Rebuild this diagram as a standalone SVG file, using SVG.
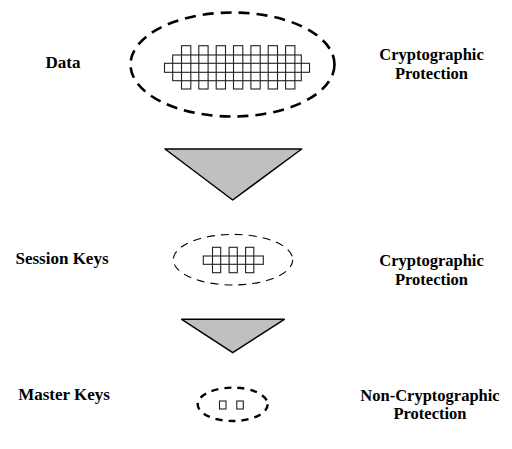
<svg xmlns="http://www.w3.org/2000/svg" width="512" height="449" viewBox="0 0 512 449">
<style>
text{font-family:"Liberation Serif","Times New Roman",serif;font-weight:bold;font-size:17px;fill:#000}
.lbl{text-anchor:middle}
.two{font-size:16.5px}
.cell{fill:#fff;stroke:#222;stroke-width:1.1}
.open{fill:none;stroke:#222;stroke-width:1.1}
.tri{fill:#c0c0c0;stroke:#000;stroke-width:1.5;stroke-linejoin:round}
.thick{fill:none;stroke:#000;stroke-width:2.6;stroke-dasharray:11 7}
.thin{fill:none;stroke:#000;stroke-width:1.1;stroke-dasharray:8 6}
.mid{fill:none;stroke:#000;stroke-width:2.4;stroke-dasharray:7 6}
</style>
<rect width="512" height="449" fill="#fff"/>
<g id="data">
  <text class="lbl" x="63" y="68">Data</text>
  <ellipse class="thick" cx="232.5" cy="64.5" rx="102" ry="52"/>
  <g>
    <rect class="cell" x="181.5" y="45.7" width="9.3" height="43.3"/>
    <rect class="cell" x="198.8" y="45.7" width="9.3" height="43.3"/>
    <rect class="cell" x="216.2" y="45.7" width="9.3" height="43.3"/>
    <rect class="cell" x="233.5" y="45.7" width="9.3" height="43.3"/>
    <rect class="cell" x="250.9" y="45.7" width="9.3" height="43.3"/>
    <rect class="cell" x="268.2" y="45.7" width="9.3" height="43.3"/>
    <rect class="cell" x="285.6" y="45.7" width="9.3" height="43.3"/>
    <rect class="open" x="172.7" y="55" width="128.6" height="25.7"/>
    <rect class="open" x="164.5" y="63.3" width="145" height="9"/>
  </g>
  <text class="lbl two" x="431.5" y="60">Cryptographic</text>
  <text class="lbl two" x="431.5" y="78.5">Protection</text>
</g>
<g id="arrow1">
  <polygon class="tri" points="165,149 301.7,149 232.7,200"/>
</g>
<g id="session">
  <text class="lbl" x="62" y="263.5">Session Keys</text>
  <ellipse class="thin" cx="233" cy="259.7" rx="59.7" ry="25.3"/>
  <g>
    <rect class="cell" x="212.5" y="247.3" width="8.2" height="25.4"/>
    <rect class="cell" x="229.1" y="247.3" width="8.2" height="25.4"/>
    <rect class="cell" x="245.6" y="247.3" width="8.2" height="25.4"/>
    <rect class="open" x="203.3" y="256" width="60" height="8.3"/>
  </g>
  <text class="lbl two" x="431.5" y="266">Cryptographic</text>
  <text class="lbl two" x="431.5" y="284.5">Protection</text>
</g>
<g id="arrow2">
  <polygon class="tri" points="181.7,319.3 284.3,319.3 232.7,352.7"/>
</g>
<g id="master">
  <text class="lbl" x="64" y="399.5">Master Keys</text>
  <ellipse class="mid" cx="232.7" cy="404.3" rx="35" ry="16.7"/>
  <rect class="cell" x="219.5" y="401" width="6.5" height="8"/>
  <rect class="cell" x="236.8" y="401" width="6.5" height="8"/>
  <text class="lbl two" x="430" y="400.5">Non-Cryptographic</text>
  <text class="lbl two" x="430" y="419">Protection</text>
</g>
</svg>
